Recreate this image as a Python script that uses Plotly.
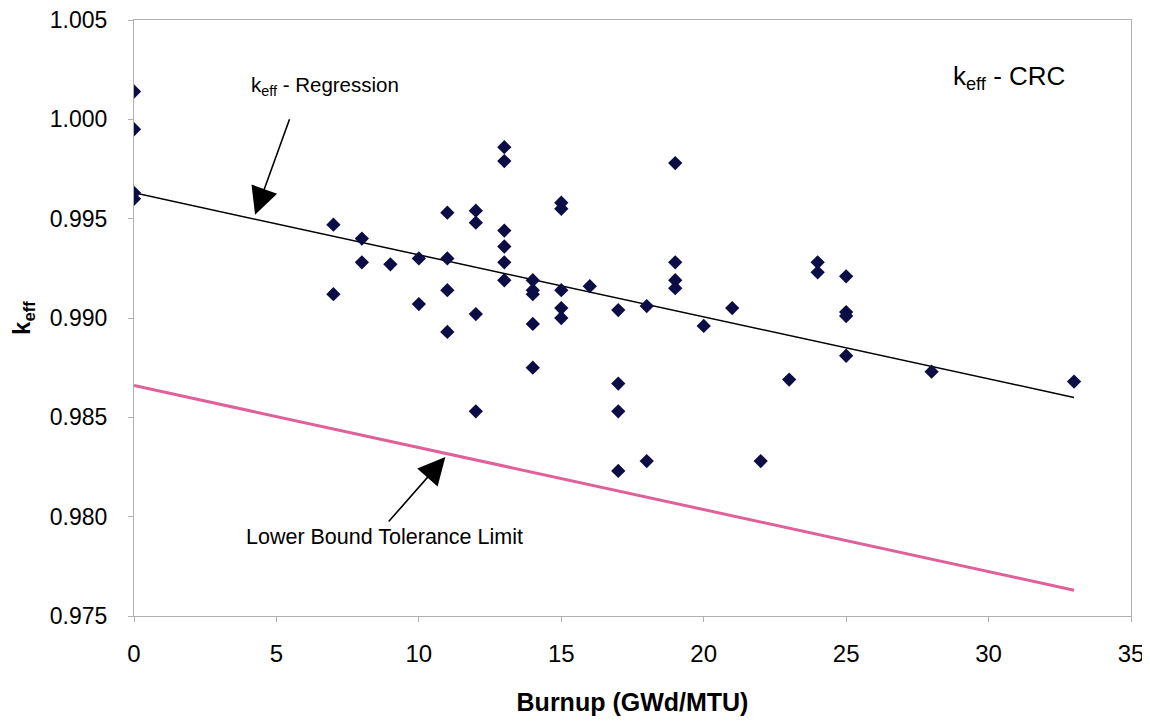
import plotly.graph_objects as go

# Data
burnup = [0, 0, 0, 0,
          7, 7, 8, 8, 9, 10, 10,
          11, 11, 11, 11, 12, 12, 12, 12,
          13, 13, 13, 13, 13, 13,
          14, 14, 14, 14, 14,
          15, 15, 15, 15, 15,
          16, 17, 17, 17, 17,
          18, 18, 19, 19, 19, 19,
          20, 21, 22, 23, 24, 24,
          25, 25, 25, 25, 28, 33]
keff = [1.0014, 0.9995, 0.9963, 0.9960,
        0.9947, 0.9912, 0.9940, 0.9928, 0.9927, 0.9930, 0.9907,
        0.9953, 0.9930, 0.9914, 0.9893, 0.9954, 0.9948, 0.9902, 0.9853,
        0.9986, 0.9979, 0.9944, 0.9936, 0.9928, 0.9919,
        0.9919, 0.9914, 0.9912, 0.9897, 0.9875,
        0.9958, 0.9955, 0.9914, 0.9905, 0.9900,
        0.9916, 0.9904, 0.9867, 0.9853, 0.9823,
        0.9906, 0.9828, 0.9978, 0.9928, 0.9919, 0.9915,
        0.9896, 0.9905, 0.9828, 0.9869, 0.9928, 0.9923,
        0.9921, 0.9903, 0.9901, 0.9881, 0.9873, 0.9868]

line_x = [0, 33]
regression_y = [0.9963, 0.9860]
lower_bound_y = [0.9866, 0.9763]

x_ticks = [0, 5, 10, 15, 20, 25, 30, 35]
y_ticks = [0.975, 0.980, 0.985, 0.990, 0.995, 1.000, 1.005]

FONT = "Liberation Sans, Arial, sans-serif"

# page body has an 8px default margin, so the figure is sized/placed accordingly
OFF = 8
W, H = 1150 - OFF, 723 - OFF
PL, PR, PT, PB = 134 - OFF, 1131 - OFF, 20 - OFF, 616 - OFF  # plot area in figure px
PW, PH = PR - PL, PB - PT


def px(xp):
    return (xp - OFF - PL) / PW


def py(yp):
    return (PB - (yp - OFF)) / PH


fig = go.Figure()
fig.add_trace(go.Scatter(x=line_x, y=lower_bound_y, mode="lines",
                         line=dict(color="#e0609a", width=3), showlegend=False))
fig.add_trace(go.Scatter(x=line_x, y=regression_y, mode="lines",
                         line=dict(color="#000000", width=1.5), showlegend=False))
fig.add_trace(go.Scatter(x=burnup, y=keff, mode="markers",
                         marker=dict(symbol="diamond", size=11, color="#0d0d45"),
                         showlegend=False))

# Arrows
fig.add_annotation(x=4.25, y=0.9952, ax=35, ay=-97, text="", showarrow=True,
                   arrowhead=2, arrowsize=3.4, arrowwidth=1.6, arrowcolor="#000")
fig.add_annotation(x=10.93, y=0.9830, ax=-58, ay=66, text="", showarrow=True,
                   arrowhead=2, arrowsize=3.4, arrowwidth=1.6, arrowcolor="#000")

# Labels
fig.add_annotation(xref="paper", yref="paper", x=px(249), y=py(86),
                   xanchor="left", yanchor="middle", showarrow=False,
                   text="k<sub>eff</sub> - Regression", font=dict(family=FONT, size=20.5, color="#000"))
fig.add_annotation(xref="paper", yref="paper", x=px(244), y=py(537),
                   xanchor="left", yanchor="middle", showarrow=False,
                   text="Lower Bound Tolerance Limit", font=dict(family=FONT, size=21.5, color="#000"))
fig.add_annotation(xref="paper", yref="paper", x=px(951), y=py(77),
                   xanchor="left", yanchor="middle", showarrow=False,
                   text="k<sub>eff</sub> - CRC", font=dict(family=FONT, size=26, color="#000"))

fig.update_layout(
    width=W, height=H,
    margin=dict(l=PL, r=W - PR, t=PT, b=H - PB),
    paper_bgcolor="white", plot_bgcolor="white",
    font=dict(family=FONT, color="#000"),
    xaxis=dict(range=[0, 35], tickvals=x_ticks, ticktext=[str(v) for v in x_ticks],
               automargin=False, ticklabeloverflow="allow",
               showgrid=False, zeroline=False, showline=True, linecolor="#b0b0b0",
               mirror=True, ticks="outside", ticklen=5, tickcolor="#b0b0b0",
               ticklabelstandoff=11, tickfont=dict(size=24),
               title=dict(text="<b>Burnup (GWd/MTU)</b>", font=dict(size=25), standoff=27)),
    yaxis=dict(range=[0.975, 1.005], tickvals=y_ticks, ticktext=[f"{v:.3f}" for v in y_ticks],
               automargin=False, ticklabeloverflow="allow",
               showgrid=False, zeroline=False, showline=True, linecolor="#b0b0b0",
               mirror=True, ticks="outside", ticklen=5, tickcolor="#b0b0b0",
               ticklabelstandoff=16, tickfont=dict(size=23),
               title=dict(text="<b>k<sub>eff</sub></b>", font=dict(size=24), standoff=14)),
)

fig.write_html("out.html")
